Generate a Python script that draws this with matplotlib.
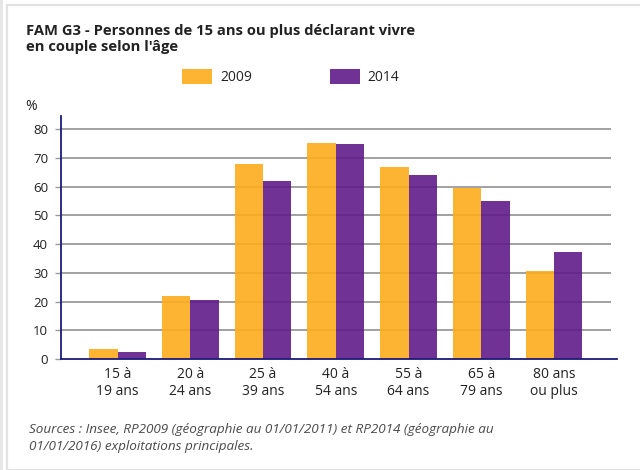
import matplotlib.pyplot as plt
import matplotlib.patches as mpatch
import numpy as np

plt.rcParams['font.family'] = ['Open Sans', 'DejaVu Sans']

# Data (% of people living as a couple)
age_groups = ['15 à\n19 ans', '20 à\n24 ans', '25 à\n39 ans', '40 à\n54 ans',
              '55 à\n64 ans', '65 à\n79 ans', '80 ans\nou plus']
values_2009 = [3.4, 21.9, 67.9, 75.1, 66.9, 59.7, 30.7]
values_2014 = [2.3, 20.4, 62.0, 74.8, 64.1, 55.0, 37.3]
series_labels = ['2009', '2014']
yticks = [0, 10, 20, 30, 40, 50, 60, 70, 80]

orange = '#FDAC1B'
purple = '#601B8A'
navy = '#1a1a7a'
grid_grey = '#9a9a9a'
text_col = '#222222'

fig = plt.figure(figsize=(6.4, 4.7), dpi=100)

# light grey frame around the panel
fig.add_artist(mpatch.Rectangle((7 / 640, 0), 1, 1 - 5 / 470, transform=fig.transFigure,
                                fill=False, edgecolor='#e2e2e2', linewidth=1.6))
fig.add_artist(mpatch.Rectangle((0, 0), 2.5 / 640, 1, transform=fig.transFigure,
                                facecolor='#e6e6e6', edgecolor='none'))

ax = fig.add_axes([61 / 640, 1 - 359 / 470, 556 / 640, 243 / 470])

x = np.arange(len(age_groups))
width = 0.39
ax.hlines(yticks[1:], -0.78, 6.78, color=grid_grey, linewidth=1.3, zorder=1)
bars09 = ax.bar(x - width / 2, values_2009, width, color=orange, alpha=0.9,
                label=series_labels[0], zorder=2)
bars14 = ax.bar(x + width / 2, values_2014, width, color=purple, alpha=0.9,
                label=series_labels[1], zorder=2)

ax.set_xlim(-0.78, 6.868)
ax.set_ylim(0, 84.6)
ax.set_yticks(yticks)
ax.set_xticks(x)
ax.set_xticklabels(age_groups, fontsize=10, color=text_col, linespacing=1.15)
ax.tick_params(axis='x', length=0, pad=6)
ax.tick_params(axis='y', length=4.3, width=1, color=grid_grey, pad=5,
               labelsize=9.5, labelcolor=text_col)

for side in ['top', 'right']:
    ax.spines[side].set_visible(False)
for side in ['left', 'bottom']:
    ax.spines[side].set_color(navy)
    ax.spines[side].set_linewidth(1.3)
    ax.spines[side].set_zorder(3)

fig.legend(handles=[bars09, bars14], labels=series_labels, ncol=2, frameon=False,
           loc='center left', bbox_to_anchor=(182 / 640, 1 - 77 / 470),
           fontsize=10, handlelength=2.16, handleheight=1.3,
           handletextpad=0.58, columnspacing=5.6, borderaxespad=0, borderpad=0,
           labelcolor=text_col)

fig.text(26 / 640, 1 - 24 / 470,
         "FAM G3 - Personnes de 15 ans ou plus déclarant vivre\nen couple selon l'âge",
         fontsize=10.6, fontweight='bold', color=text_col, va='top', ha='left',
         linespacing=1.15)
fig.text(25 / 640, 1 - 106 / 470, '%', fontsize=10, color=text_col, va='center')

fig.text(29 / 640, 1 - 423 / 470,
         "Sources : Insee, RP2009 (géographie au 01/01/2011) et RP2014 (géographie au\n"
         "01/01/2016) exploitations principales.",
         fontsize=9.7, style='italic', color='#4a4a4a', va='top', ha='left',
         linespacing=1.4)

fig.savefig('out.png', dpi=100)
